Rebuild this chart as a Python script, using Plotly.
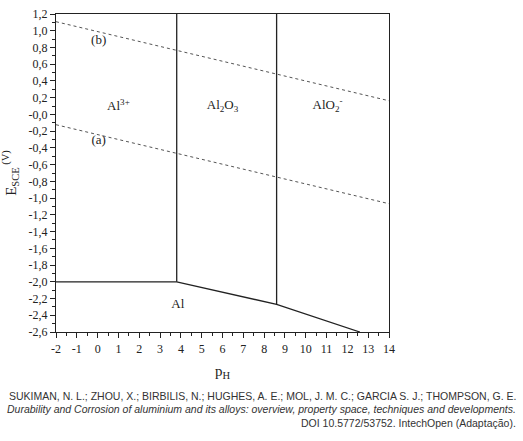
import plotly.graph_objects as go

# Data
ph_ticks = list(range(-2, 15))
ph_ticklabels = [str(v) for v in ph_ticks]
e_ticks = [round(1.2 - 0.2 * i, 1) for i in range(20)]
e_ticklabels = [f"{v:.1f}".replace(".", ",") for v in e_ticks]

# Water stability lines (dotted)
line_b_ph = [-2, 14]
line_b_e = [1.108, 0.163]
line_a_ph = [-2, 14]
line_a_e = [-0.123, -1.067]

# Phase boundaries (solid)
al_boundary_ph = [-2, 3.8, 8.6, 12.6]
al_boundary_e = [-2.0, -2.0, -2.27, -2.6]
v1_ph = [3.8, 3.8]
v1_e = [-2.0, 1.2]
v2_ph = [8.6, 8.6]
v2_e = [-2.27, 1.2]

# Region labels
label_text = ["Al<sup>3+</sup>", "Al<sub>2</sub>O<sub>3</sub>", "AlO<sub>2</sub><sup>-</sup>", "Al", "(b)", "(a)"]
label_ph = [1.0, 6.0, 11.05, 3.85, 0.05, 0.05]
label_e = [0.09, 0.1, 0.1, -2.28, 0.88, -0.32]

caption = [
    "SUKIMAN, N. L.; ZHOU, X.; BIRBILIS, N.; HUGHES, A. E.; MOL, J. M. C.; GARCIA S. J.; THOMPSON, G. E.",
    "<i>Durability and Corrosion of aluminium and its alloys: overview, property space, techniques and developments.</i>",
    "DOI 10.5772/53752. IntechOpen (Adaptação).",
]

fig = go.Figure()
dot_style = dict(color="#555555", width=1, dash="dot")
solid_style = dict(color="#222222", width=1.3)
fig.add_trace(go.Scatter(x=line_b_ph, y=line_b_e, mode="lines", line=dot_style, hoverinfo="skip"))
fig.add_trace(go.Scatter(x=line_a_ph, y=line_a_e, mode="lines", line=dot_style, hoverinfo="skip"))
fig.add_trace(go.Scatter(x=al_boundary_ph, y=al_boundary_e, mode="lines", line=solid_style, hoverinfo="skip"))
fig.add_trace(go.Scatter(x=v1_ph, y=v1_e, mode="lines", line=solid_style, hoverinfo="skip"))
fig.add_trace(go.Scatter(x=v2_ph, y=v2_e, mode="lines", line=solid_style, hoverinfo="skip"))
fig.add_trace(go.Scatter(x=label_ph, y=label_e, mode="text", text=label_text,
                         textfont=dict(family="Liberation Serif", size=13, color="#222222"),
                         hoverinfo="skip"))

serif = dict(family="Liberation Serif", size=12, color="#222222")
fig.update_layout(
    width=523, height=441,
    margin=dict(l=56, r=134, t=7, b=109),
    paper_bgcolor="white", plot_bgcolor="white",
    showlegend=False,
    font=serif,
    xaxis=dict(
        range=[-2, 14], tickvals=ph_ticks, ticktext=ph_ticklabels,
        ticks="outside", ticklen=5, tickwidth=1, tickcolor="#222222",
        minor=dict(dtick=0.5, ticks="outside", ticklen=3, tickcolor="#222222", showgrid=False),
        showgrid=False, zeroline=False, showline=True, linecolor="#222222", linewidth=1.3, mirror=True,
        tickfont=serif,
        title=dict(text="p<sub>H</sub>", font=dict(family="Liberation Serif", size=15, color="#222222"), standoff=10),
    ),
    yaxis=dict(
        range=[-2.6, 1.2], tickvals=e_ticks, ticktext=e_ticklabels,
        ticks="outside", ticklen=5, tickwidth=1, tickcolor="#222222",
        minor=dict(dtick=0.1, ticks="outside", ticklen=3, tickcolor="#222222", showgrid=False),
        showgrid=False, zeroline=False, showline=True, linecolor="#222222", linewidth=1.3, mirror=True,
        tickfont=serif,
        title=dict(text="E<sub>SCE</sub><sup> (V)</sup>", font=dict(family="Liberation Serif", size=15, color="#222222"), standoff=8),
    ),
)

for i, line in enumerate(caption):
    fig.add_annotation(text=line, xref="paper", yref="paper", x=1.386, y=-0.2 - i * 0.043,
                       xanchor="right", yanchor="middle", showarrow=False, align="right",
                       font=dict(family="Liberation Sans", size=10.5, color="#333333"))

fig.write_html("out.html", config={"displayModeBar": False},
               post_script="document.body.style.margin='0';")
